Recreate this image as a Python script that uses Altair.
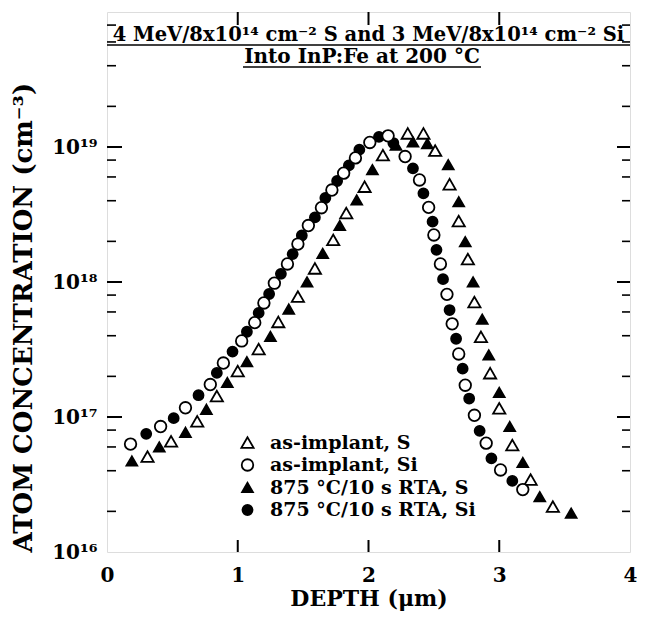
import altair as alt
import pandas as pd

# ---------------- data (depth in um, atom concentration in cm^-3) ----------------
s_imp_depth = [0.31, 0.49, 0.69, 0.84, 1.00, 1.16, 1.31, 1.46, 1.59, 1.73, 1.83, 1.97, 2.11,
               2.30, 2.42, 2.51, 2.62, 2.69, 2.76, 2.81, 2.86, 2.93, 3.00, 3.10, 3.24, 3.41]
s_imp_conc = [5.1e16, 6.6e16, 9.3e16, 1.43e17, 2.19e17, 3.19e17, 5.06e17, 7.8e17, 1.26e18,
              2.05e18, 3.24e18, 5.08e18, 8.7e18, 1.26e19, 1.26e19, 9.4e18, 5.3e18, 2.83e18,
              1.48e18, 7.1e17, 3.93e17, 2.11e17, 1.16e17, 6.2e16, 3.44e16, 2.17e16]

si_imp_depth = [0.18, 0.41, 0.60, 0.79, 0.89, 1.03, 1.13, 1.20, 1.28, 1.38, 1.46, 1.54, 1.64,
                1.72, 1.81, 1.90, 2.01, 2.15, 2.28, 2.39, 2.46, 2.50, 2.55, 2.60, 2.64, 2.69,
                2.74, 2.81, 2.90, 3.01, 3.18]
si_imp_conc = [6.3e16, 8.5e16, 1.17e17, 1.74e17, 2.51e17, 3.66e17, 5.0e17, 6.99e17, 9.8e17,
               1.36e18, 1.91e18, 2.62e18, 3.55e18, 4.8e18, 6.4e18, 8.3e18, 1.08e19, 1.21e19,
               8.5e18, 5.7e18, 3.57e18, 2.23e18, 1.36e18, 8.1e17, 4.9e17, 2.93e17, 1.72e17,
               1.03e17, 6.4e16, 4.05e16, 2.9e16]

s_rta_depth = [0.19, 0.40, 0.60, 0.76, 0.92, 1.07, 1.25, 1.39, 1.53, 1.65, 1.78, 1.91, 2.03,
               2.21, 2.34, 2.45, 2.61, 2.69, 2.74, 2.80, 2.87, 2.92, 3.00, 3.08, 3.18, 3.31, 3.55]
s_rta_conc = [4.72e16, 6.0e16, 7.7e16, 1.14e17, 1.80e17, 2.57e17, 3.95e17, 6.3e17, 1.0e18,
              1.63e18, 2.62e18, 4.05e18, 6.8e18, 1.03e19, 1.09e19, 1.06e19, 7.4e18, 3.93e18,
              1.99e18, 1.0e18, 5.3e17, 2.88e17, 1.52e17, 8.5e16, 4.6e16, 2.57e16, 1.94e16]

si_rta_depth = [0.30, 0.51, 0.70, 0.84, 0.96, 1.07, 1.16, 1.24, 1.33, 1.42, 1.49, 1.59, 1.67,
                1.76, 1.85, 1.93, 2.08, 2.19, 2.34, 2.42, 2.49, 2.52, 2.57, 2.62, 2.67, 2.72,
                2.77, 2.85, 2.94, 3.10]
si_rta_conc = [7.5e16, 9.8e16, 1.45e17, 2.12e17, 3.05e17, 4.28e17, 5.9e17, 8.15e17, 1.15e18,
               1.61e18, 2.21e18, 3.01e18, 4.19e18, 5.6e18, 7.3e18, 9.55e18, 1.19e19, 1.07e19,
               6.95e18, 4.54e18, 2.8e18, 1.73e18, 1.05e18, 6.2e17, 3.8e17, 2.28e17, 1.37e17,
               7.9e16, 4.94e16, 3.36e16]

series_labels = ["as-implant, S", "as-implant, Si", "875 °C/10 s RTA, S", "875 °C/10 s RTA, Si"]

title_line1 = "4 MeV/8x10¹⁴ cm⁻² S and 3 MeV/8x10¹⁴ cm⁻² Si"
title_line2 = "Into InP:Fe at 200 °C"
x_title = "DEPTH (μm)"
y_title = "ATOM CONCENTRATION (cm⁻³)"

x_tick_values = [0, 1, 2, 3, 4]
x_inner_ticks = [1, 2, 3]
y_tick_values = [1e16, 1e17, 1e18, 1e19]
y_tick_labels = ["10¹⁶", "10¹⁷", "10¹⁸", "10¹⁹"]
y_inner_major = [1e17, 1e18, 1e19]
y_minor = [2e16, 4e16, 6e16, 8e16, 2e17, 4e17, 6e17, 8e17,
           2e18, 4e18, 6e18, 8e18, 2e19, 4e19, 6e19, 8e19]

# ---------------- build table ----------------
frames = []
for lab, d, c in [(series_labels[2], s_rta_depth, s_rta_conc),
                  (series_labels[3], si_rta_depth, si_rta_conc),
                  (series_labels[0], s_imp_depth, s_imp_conc),
                  (series_labels[1], si_imp_depth, si_imp_conc)]:
    frames.append(pd.DataFrame({"depth": d, "conc": c, "series": lab}))
df = pd.concat(frames, ignore_index=True)

W, H = 523, 540
FONT = "DejaVu Serif"

xscale = alt.Scale(domain=[0, 4], nice=False, zero=False)
yscale = alt.Scale(type="log", domain=[1e16, 1e20], nice=False)

label_expr = " : ".join(
    f"datum.value == {v} ? '{l}'" for v, l in zip(y_tick_values[:-1], y_tick_labels[:-1])
) + f" : '{y_tick_labels[-1]}'"

x_axis = alt.Axis(values=x_tick_values, format="d", ticks=False, domain=False, grid=False,
                  labelFlush=False, labelOverlap=False, labelPadding=13, labelFont=FONT,
                  labelFontSize=20, labelFontWeight="bold", labelColor="black",
                  title=x_title, titleFont=FONT, titleFontSize=22, titleFontWeight="bold",
                  titleColor="black", titleBaseline="alphabetic", titleY=53)
y_axis = alt.Axis(values=y_tick_values, labelExpr=label_expr, ticks=False, domain=False,
                  grid=False, labelFlush=False, labelOverlap=False, labelPadding=10,
                  labelFont=FONT, labelFontSize=20, labelFontWeight="bold", labelColor="black",
                  title=y_title, titleFont=FONT, titleFontSize=26, titleFontWeight="bold",
                  titleColor="black", titlePadding=15, titleAnchor="start")

X = alt.X("depth:Q", scale=xscale, axis=x_axis)
Y = alt.Y("conc:Q", scale=yscale, axis=y_axis)

leg = alt.Legend(orient="none", legendX=131, legendY=421, title=None, labelFont=FONT,
                 labelFontSize=19, labelFontWeight="bold", labelColor="black",
                 symbolStrokeWidth=1.8, rowPadding=2.5,
                 labelOffset=13, padding=0, labelLimit=400)

points = alt.Chart(df).mark_point(filled=True, strokeWidth=1.8, opacity=1).encode(
    x=X, y=Y,
    shape=alt.Shape("series:N", scale=alt.Scale(domain=series_labels,
                    range=["triangle-up", "circle", "triangle-up", "circle"]), legend=leg),
    fill=alt.Fill("series:N", scale=alt.Scale(domain=series_labels,
                  range=["white", "white", "black", "black"]), legend=leg),
    stroke=alt.Stroke("series:N", scale=alt.Scale(domain=series_labels,
                      range=["black", "black", "black", "black"]), legend=leg),
    size=alt.Size("series:N", scale=alt.Scale(domain=series_labels,
                  range=[150, 100, 150, 100]), legend=leg),
)

# inward tick marks
ymaj = pd.DataFrame({"conc": y_inner_major})
ymin = pd.DataFrame({"conc": y_minor})
xin = pd.DataFrame({"depth": x_inner_ticks})

def yrule(data, x0, x1, w):
    return alt.Chart(data).mark_rule(color="black", strokeWidth=w).encode(
        y=Y, x=alt.value(x0), x2=alt.value(x1))

def xrule(data, y0, y1, w):
    return alt.Chart(data).mark_rule(color="black", strokeWidth=w).encode(
        x=X, y=alt.value(y0), y2=alt.value(y1))

ticks = [
    yrule(ymaj, 0, 15, 2), yrule(ymin, 0, 9, 1.6),
    yrule(ymaj, W, W - 13, 2), yrule(ymin, W, W - 8, 1.6),
    xrule(xin, H, H - 12, 2), xrule(xin, 0, 13, 2),
]

# title inside the frame
tdf1 = pd.DataFrame({"t": [title_line1]})
tdf2 = pd.DataFrame({"t": [title_line2]})
t1 = alt.Chart(tdf1).mark_text(font=FONT, fontSize=19.5, fontWeight="bold", color="black",
                               baseline="alphabetic").encode(
    text="t:N", x=alt.value(W / 2), y=alt.value(29))
t2 = alt.Chart(tdf2).mark_text(font=FONT, fontSize=20, fontWeight="bold", color="black",
                               baseline="alphabetic").encode(
    text="t:N", x=alt.value(255), y=alt.value(51))
u1 = alt.Chart(tdf1).mark_rule(color="black", strokeWidth=1.5).encode(
    x=alt.value(0), x2=alt.value(W), y=alt.value(33))
u2 = alt.Chart(tdf2).mark_rule(color="black", strokeWidth=1.5).encode(
    x=alt.value(136), x2=alt.value(374), y=alt.value(55))

chart = alt.layer(points, *ticks, t1, t2, u1, u2).properties(
    width=W, height=H,
    autosize=alt.AutoSizeParams(type="none"),
    padding={"left": 99, "top": 4, "right": 7, "bottom": 60},
).configure_view(stroke="black", strokeWidth=2).configure(background="white")

chart.save("out.html", embed_options={"renderer": "svg", "actions": False})
